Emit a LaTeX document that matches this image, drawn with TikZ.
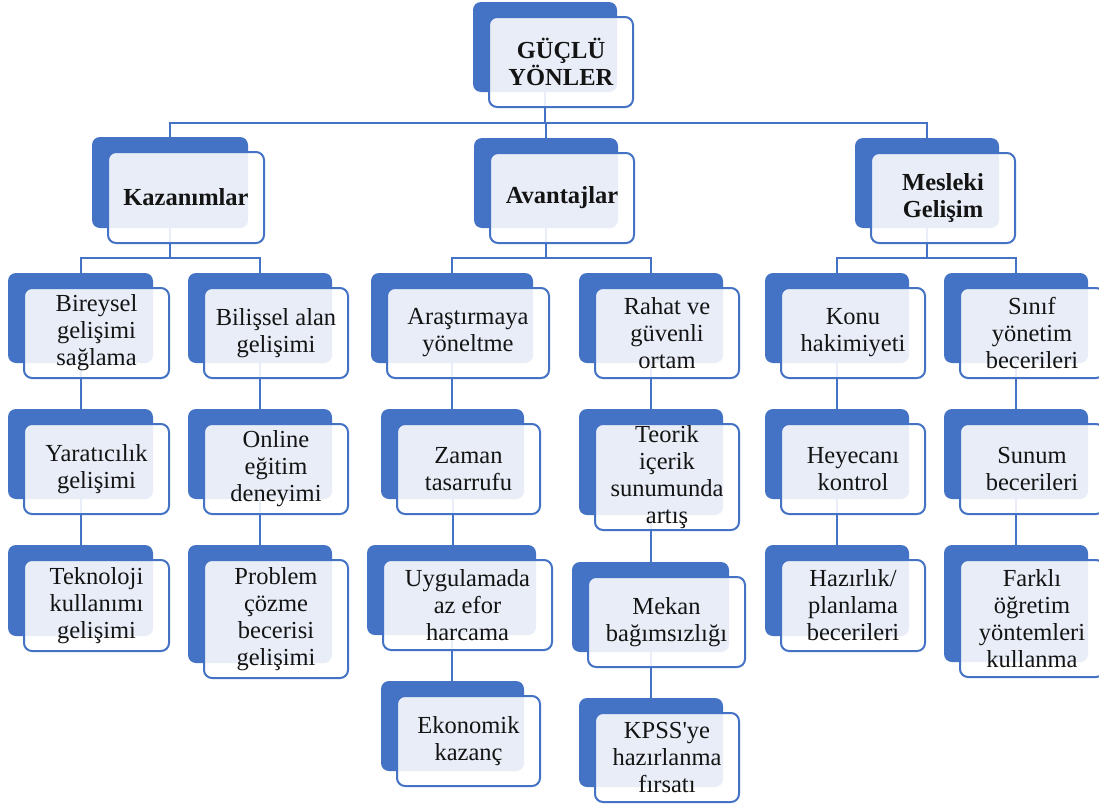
\documentclass[tikz,border=0pt]{standalone}
\usepackage{fontspec}
\setmainfont{Liberation Serif}
\usetikzlibrary{backgrounds}
\definecolor{obl}{HTML}{4472C4}
\newcommand\gitem[6]{%
  \node[backbox, minimum width=#4pt, minimum height=#5pt] (#1-b) at (#2,#3) {};
  \node[frontbox, minimum width=#4pt, minimum height=#5pt] (#1) at (#2+16,#3+15) {#6};
}
\begin{document}
\begin{tikzpicture}[x=1pt,y=-1pt,
  backbox/.style={draw=none, fill=obl, rounded corners=8pt, inner sep=0pt},
  frontbox/.style={draw=obl, line width=2pt, fill=white, fill opacity=0.88,
    text opacity=1, rounded corners=8pt, inner sep=0pt, align=center,
    font=\fontsize{24.5}{27}\selectfont, text=black!92},
  conn/.style={draw=obl, line width=2pt}]
\useasboundingbox (0,0) rectangle (1099,806);
% level 0 and 1
\gitem{root}{545}{47}{144}{90}{\textbf{GÜÇLÜ}\\\textbf{YÖNLER}}
\gitem{kaz}{170}{182.5}{156}{91}{\textbf{Kazanımlar}}
\gitem{ava}{546}{183}{144}{90}{\textbf{Avantajlar}}
\gitem{mes}{927}{183}{144}{90}{\textbf{Mesleki}\\\textbf{Gelişim}}
% Kazanımlar
\gitem{bir}{80.5}{318}{145}{90}{Bireysel\\gelişimi\\sağlama}
\gitem{yar}{80.5}{454}{145}{90}{Yaratıcılık\\gelişimi}
\gitem{tek}{80.5}{590.5}{145}{91}{Teknoloji\\kullanımı\\gelişimi}
\gitem{bil}{260}{318}{144}{90}{Bilişsel alan\\gelişimi}
\gitem{onl}{260}{454}{144}{90}{Online\\eğitim\\deneyimi}
\gitem{pro}{260}{604}{144}{118}{Problem\\çözme\\becerisi\\gelişimi}
% Avantajlar
\gitem{ara}{452}{318}{162}{90}{Araştırmaya\\yöneltme}
\gitem{zam}{452.5}{454}{143}{90}{Zaman\\tasarrufu}
\gitem{uyg}{451.5}{590}{169}{90}{Uygulamada\\az efor\\harcama}
\gitem{eko}{452.5}{726}{143}{90}{Ekonomik\\kazanç}
\gitem{rah}{651}{318}{144}{90}{Rahat ve\\güvenli\\ortam}
\gitem{teo}{651}{462}{144}{106}{Teorik\\içerik\\sunumunda\\artış}
\gitem{mek}{650.5}{607}{157}{90}{Mekan\\bağımsızlığı}
\gitem{kps}{651}{742.5}{144}{89}{KPSS\textquotesingle ye\\hazırlanma\\fırsatı}
% Mesleki Gelişim
\gitem{kon}{837}{318}{144}{90}{Konu\\hakimiyeti}
\gitem{hey}{837}{454}{144}{90}{Heyecanı\\kontrol}
\gitem{haz}{837}{590.5}{144}{91}{Hazırlık/\\planlama\\becerileri}
\gitem{sin}{1016}{318}{144}{90}{Sınıf\\yönetim\\becerileri}
\gitem{sun}{1016}{454}{144}{90}{Sunum\\becerileri}
\gitem{far}{1016}{603.5}{144}{117}{Farklı\\öğretim\\yöntemleri\\kullanma}
\begin{pgfonlayer}{background}
\fill[white] (0,0) rectangle (1099,806);
\coordinate (barA) at (0,123);
\coordinate (barB) at (0,258);
\draw[conn] (root-b.center) -- (root-b.center |- barA) -| (kaz-b.center);
\draw[conn] (root-b.center |- barA) -| (mes-b.center);
\draw[conn] (root-b.center |- barA) -| (ava-b.center);
% level 2 bars
\draw[conn] (kaz-b.center) -- (kaz-b.center |- barB) -| (bir-b.center);
\draw[conn] (kaz-b.center |- barB) -| (bil-b.center);
\draw[conn] (ava-b.center) -- (ava-b.center |- barB) -| (ara-b.center);
\draw[conn] (ava-b.center |- barB) -| (rah-b.center);
\draw[conn] (mes-b.center) -- (mes-b.center |- barB) -| (kon-b.center);
\draw[conn] (mes-b.center |- barB) -| (sin-b.center);
% chains
\draw[conn] (bir-b.center) -- (bir-b.center |- yar-b.center);
\draw[conn] (yar-b.center) -- (yar-b.center |- tek-b.center);
\draw[conn] (bil-b.center) -- (bil-b.center |- onl-b.center);
\draw[conn] (onl-b.center) -- (onl-b.center |- pro-b.center);
\draw[conn] (ara-b.center) -- (ara-b.center |- zam-b.center);
\draw[conn] (zam-b.center) -- (zam-b.center |- uyg-b.center);
\draw[conn] (uyg-b.center) -- (uyg-b.center |- eko-b.center);
\draw[conn] (rah-b.center) -- (rah-b.center |- teo-b.center);
\draw[conn] (teo-b.center) -- (teo-b.center |- mek-b.center);
\draw[conn] (mek-b.center) -- (mek-b.center |- kps-b.center);
\draw[conn] (kon-b.center) -- (kon-b.center |- hey-b.center);
\draw[conn] (hey-b.center) -- (hey-b.center |- haz-b.center);
\draw[conn] (sin-b.center) -- (sin-b.center |- sun-b.center);
\draw[conn] (sun-b.center) -- (sun-b.center |- far-b.center);
\end{pgfonlayer}
\end{tikzpicture}
\end{document}
